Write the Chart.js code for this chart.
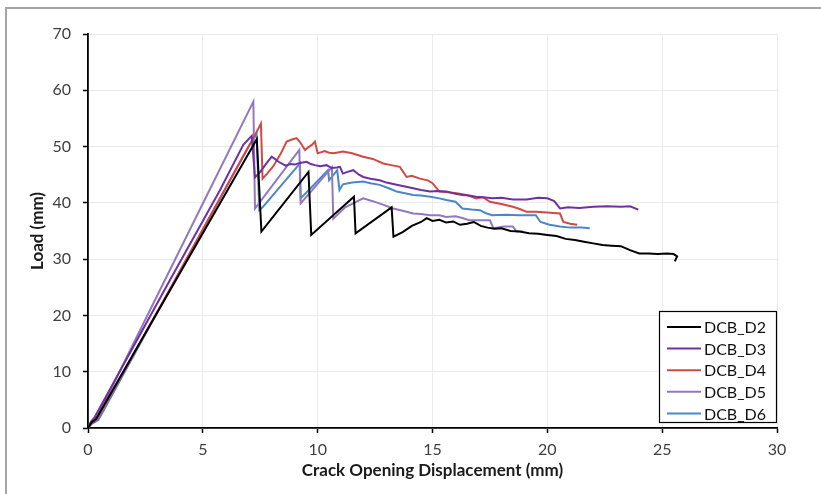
<!DOCTYPE html>
<html>
<head>
<meta charset="utf-8">
<script src="https://cdn.jsdelivr.net/npm/chart.js@4.4.1/dist/chart.umd.min.js"></script>
<style>
  html, body { margin: 0; padding: 0; background: #fff; }
  #wrap { position: relative; width: 821px; height: 494px; overflow: hidden; }
  #frame { position: absolute; left: 5px; top: 7px; right: -10px; bottom: -10px;
           border-top: 2px solid #a4a4a4; border-left: 2px solid #a4a4a4; pointer-events: none; }
  canvas { position: absolute; left: 0; top: 0; }
</style>
</head>
<body>
<div id="wrap">
  <canvas id="chart" width="821" height="494"></canvas>
  <div id="frame"></div>
</div>
<script>
// Load vs. crack opening displacement for the DCB specimens
const seriesNames = ['DCB_D2', 'DCB_D3', 'DCB_D4', 'DCB_D5', 'DCB_D6'];
const seriesColors = ['#000000', '#7030A0', '#D04A44', '#9279BE', '#4A86C8'];

const xTicks = [0, 5, 10, 15, 20, 25, 30];
const yTicks = [0, 10, 20, 30, 40, 50, 60, 70];

const d2X = [0, 0.15, 0.35, 7.35, 7.55, 9.6, 9.72, 11.58, 11.65, 13.22, 13.3, 13.7, 14.1, 14.5, 14.75, 15.0, 15.3, 15.6, 15.9, 16.2, 16.5, 16.8, 17.1, 17.4, 17.7, 18.0, 18.4, 18.8, 19.2, 19.6, 20.0, 20.4, 20.8, 21.2, 21.6, 22.0, 22.4, 22.8, 23.2, 23.6, 24.0, 24.4, 24.8, 25.2, 25.5, 25.65, 25.55];
const d2Y = [0, 1.0, 1.6, 51.3, 34.9, 45.5, 34.3, 41.1, 34.6, 39.2, 34.0, 34.8, 35.9, 36.6, 37.3, 36.8, 37.0, 36.5, 36.7, 36.1, 36.3, 36.6, 35.9, 35.6, 35.4, 35.5, 35.0, 34.9, 34.6, 34.5, 34.3, 34.1, 33.6, 33.4, 33.1, 32.8, 32.5, 32.4, 32.3, 31.6, 31.0, 31.0, 30.9, 31.0, 30.9, 30.5, 29.6];

const d3X = [0, 0.15, 0.3, 3.57, 5.75, 6.76, 7.13, 7.27, 7.5, 7.8, 8.0, 8.3, 8.6, 8.8, 9.0, 9.23, 9.52, 9.7, 9.88, 10.1, 10.39, 10.6, 10.83, 10.97, 11.1, 11.3, 11.55, 11.8, 11.98, 12.3, 12.7, 13.0, 13.44, 13.8, 14.16, 14.5, 14.9, 15.2, 15.6, 16.0, 16.3, 16.6, 16.9, 17.2, 17.6, 18.0, 18.5, 19.1, 19.6, 20.0, 20.3, 20.55, 20.9, 21.4, 22.0, 22.6, 23.2, 23.6, 23.96];
const d3Y = [0, 1.2, 2.0, 26.3, 42.3, 50.3, 51.9, 44.5, 45.5, 47.2, 48.2, 47.3, 46.6, 46.9, 46.8, 47.1, 47.3, 46.9, 46.7, 46.5, 46.7, 46.2, 46.3, 46.4, 45.2, 45.5, 45.8, 45.0, 44.6, 44.3, 44.0, 43.6, 43.2, 42.9, 42.6, 42.3, 42.0, 42.1, 42.0, 41.6, 41.4, 41.3, 41.1, 41.0, 40.8, 40.9, 40.6, 40.6, 40.9, 40.8, 40.3, 39.0, 39.2, 39.1, 39.3, 39.4, 39.3, 39.4, 38.8];

const d4X = [0, 0.15, 0.4, 3.79, 6.5, 7.3, 7.53, 7.6, 7.8, 8.07, 8.4, 8.65, 8.85, 9.08, 9.23, 9.45, 9.6, 9.75, 9.88, 10.0, 10.3, 10.5, 10.7, 11.1, 11.5, 11.98, 12.4, 12.86, 13.2, 13.58, 13.87, 14.1, 14.45, 14.8, 15.0, 15.3, 15.7, 16.05, 16.5, 16.9, 17.2, 17.5, 18.0, 18.5, 18.8, 19.1, 19.5, 20.0, 20.55, 20.7, 21.0, 21.3];
const d4Y = [0, 0.8, 1.6, 26.3, 46.4, 52.3, 54.1, 44.3, 45.2, 46.5, 48.8, 50.9, 51.2, 51.5, 50.8, 49.4, 49.9, 50.3, 50.9, 48.8, 49.2, 48.9, 48.8, 49.1, 48.8, 48.2, 47.8, 47.0, 46.7, 46.4, 44.6, 44.8, 44.3, 44.0, 43.5, 42.0, 41.9, 41.7, 41.4, 40.8, 41.0, 40.2, 39.8, 39.3, 38.9, 38.4, 38.4, 38.3, 38.1, 36.6, 36.3, 36.1];

const d5X = [0, 0.15, 0.4, 3.35, 7.2, 7.27, 9.2, 9.26, 10.62, 10.68, 11.2, 11.98, 12.4, 12.9, 13.29, 13.7, 14.16, 14.5, 14.9, 15.3, 15.6, 16.0, 16.3, 16.6, 17.1, 17.5, 17.65, 18.1, 18.5, 18.66, 18.95];
const d5Y = [0, 1.2, 2.0, 26.3, 58.0, 39.0, 49.4, 39.9, 46.3, 37.2, 39.2, 40.8, 40.3, 39.6, 39.0, 38.6, 38.1, 38.0, 37.8, 37.8, 37.5, 37.6, 37.3, 36.9, 36.9, 36.9, 35.5, 35.8, 35.8, 34.9, 34.9];

const d6X = [0, 0.15, 0.45, 3.79, 7.0, 7.34, 7.46, 7.6, 9.23, 9.26, 10.45, 10.5, 10.85, 10.95, 11.1, 11.5, 11.98, 12.3, 12.7, 13.1, 13.44, 13.8, 14.16, 14.5, 14.9, 15.3, 15.6, 16.0, 16.3, 16.7, 17.07, 17.3, 17.6, 18.2, 18.8, 19.5, 19.7, 20.1, 20.55, 21.0, 21.5, 21.85];
const d6Y = [0, 0.7, 1.4, 26.3, 50.0, 52.3, 38.7, 39.2, 47.0, 40.8, 45.8, 44.0, 45.8, 42.3, 43.3, 43.6, 43.8, 43.5, 43.2, 42.6, 42.0, 41.7, 41.4, 41.3, 41.1, 40.8, 40.5, 40.2, 39.0, 38.8, 38.7, 38.2, 37.8, 37.9, 37.8, 37.8, 36.6, 36.1, 35.8, 35.6, 35.6, 35.5];

const allX = [d2X, d3X, d4X, d5X, d6X];
const allY = [d2Y, d3Y, d4Y, d5Y, d6Y];

const datasets = seriesNames.map((name, i) => ({
  label: name,
  data: allX[i].map((x, k) => ({ x: x, y: allY[i][k] })),
  borderColor: seriesColors[i],
  backgroundColor: seriesColors[i],
  borderWidth: 2,
  pointRadius: 0,
  showLine: true,
  tension: 0,
  fill: false
}));

const FONT = 'Lato, "Open Sans", sans-serif';

// Boxed legend in the lower right of the plot area
const boxedLegend = {
  id: 'boxedLegend',
  afterDraw(chart) {
    const ctx = chart.ctx;
    const area = chart.chartArea;
    const w = 118, h = 112;
    const x0 = area.right - w, y0 = area.bottom - 5 - h;
    ctx.save();
    ctx.fillStyle = '#ffffff';
    ctx.fillRect(x0, y0, w, h);
    ctx.strokeStyle = '#000000';
    ctx.lineWidth = 1.2;
    ctx.strokeRect(x0 + 0.5, y0 + 0.5, w - 1, h - 1);
    ctx.font = '16px ' + FONT;
    ctx.textBaseline = 'middle';
    ctx.textAlign = 'left';
    chart.data.datasets.forEach((ds, i) => {
      const cy = y0 + 16 + i * 21.6;
      ctx.strokeStyle = ds.borderColor;
      ctx.lineWidth = 2;
      ctx.beginPath();
      ctx.moveTo(x0 + 8, cy);
      ctx.lineTo(x0 + 42, cy);
      ctx.stroke();
      ctx.fillStyle = '#111111';
      ctx.fillText(ds.label, x0 + 45, cy + 1);
    });
    ctx.restore();
  }
};

new Chart(document.getElementById('chart'), {
  type: 'scatter',
  data: { datasets: datasets },
  plugins: [boxedLegend],
  options: {
    responsive: false,
    animation: false,
    devicePixelRatio: 1,
    layout: { padding: { left: 0, top: 34, right: 44, bottom: 0 } },
    plugins: { legend: { display: false }, tooltip: { enabled: false } },
    scales: {
      x: {
        type: 'linear', min: 0, max: 30,
        afterBuildTicks: (scale) => { scale.ticks = xTicks.map(v => ({ value: v })); },
        afterFit: (scale) => { scale.height = 66; },
        ticks: { color: '#404040', font: { family: FONT, size: 16 }, padding: 7, maxRotation: 0 },
        grid: { color: '#ebebeb', lineWidth: 1, tickColor: '#000000', tickLength: 5, tickWidth: 1.5 },
        border: { color: '#000000', width: 1.8 },
        title: { display: true, text: 'Crack Opening Displacement (mm)', color: '#1a1a1a',
                 font: { family: FONT, size: 17, weight: 'bold' }, padding: { top: 0, bottom: 13 } }
      },
      y: {
        type: 'linear', min: 0, max: 70,
        afterBuildTicks: (scale) => { scale.ticks = yTicks.map(v => ({ value: v })); },
        afterFit: (scale) => { scale.width = 88; },
        ticks: { color: '#404040', font: { family: FONT, size: 16 }, padding: 12 },
        grid: { color: '#ebebeb', lineWidth: 1, tickColor: '#000000', tickLength: 5, tickWidth: 1.5 },
        border: { color: '#000000', width: 1.8 },
        title: { display: true, text: 'Load (mm)', color: '#1a1a1a',
                 font: { family: FONT, size: 17, weight: 'bold' }, padding: { top: 27, bottom: 0 } }
      }
    }
  }
});
</script>
</body>
</html>
